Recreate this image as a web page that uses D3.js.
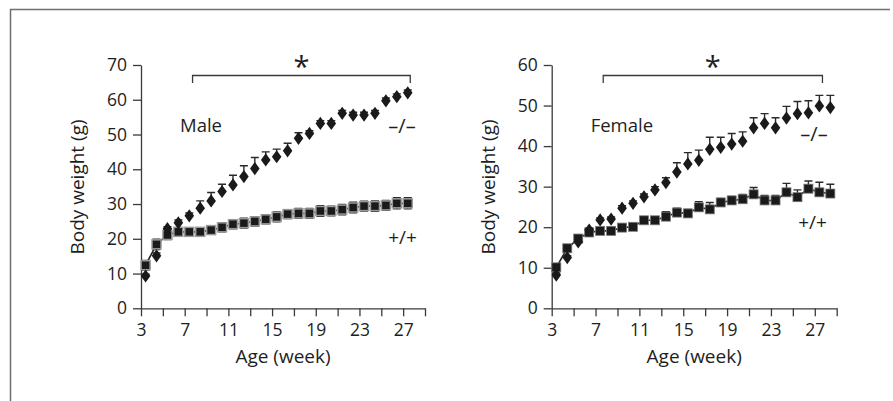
<!DOCTYPE html>
<html>
<head>
<meta charset="utf-8">
<script src="https://cdn.jsdelivr.net/npm/d3@7"></script>
<style>
  body { margin: 0; background: #fff; }
  svg { display: block; font-family: "Open Sans", "Noto Sans", sans-serif; }
</style>
</head>
<body>
<div id="chart"></div>
<script>
// body weight curves, male / female, -/- vs +/+

var maleWeeks = [3,4,5,6,7,8,9,10,11,12,13,14,15,16,17,18,19,20,21,22,23,24,25,26,27];
var maleKO    = [9.3,15.1,22.9,24.6,26.6,28.8,30.9,33.6,35.5,37.9,40.2,42.7,43.6,45.3,48.9,50.3,53.2,53.2,56.1,55.6,55.6,56.1,59.7,60.9,62.0];
var maleKOerr = [0.5,0.8,0.6,0.8,0.8,2.1,2.4,2.1,2.8,3.1,3.2,2.3,2.2,2.2,1.6,0.8,0.8,0.8,0.8,0.8,0.8,0.8,0.8,0.8,0.8];
var maleWT    = [12.4,18.4,21.1,22.0,22.0,22.0,22.5,23.3,24.2,24.5,25.0,25.6,26.3,27.1,27.3,27.3,28.0,28.0,28.4,29.0,29.4,29.4,29.6,30.2,30.2];
var maleWTerr = [1.4,1.5,1.3,1.1,1.0,1.0,1.2,1.3,1.3,1.4,1.3,1.3,1.4,1.3,1.4,1.4,1.5,1.4,1.5,1.5,1.4,1.5,1.4,1.6,1.6];

var femaleWeeks = [3,4,5,6,7,8,9,10,11,12,13,14,15,16,17,18,19,20,21,22,23,24,25,26,27,28];
var femaleKO    = [8.2,12.5,16.4,19.3,21.8,22.0,24.7,25.9,27.5,29.2,31.0,33.6,35.6,36.5,39.2,39.7,40.5,41.2,44.5,45.6,44.5,46.9,48.0,48.2,49.9,49.5];
var femaleKOerr = [0.5,0.5,0.5,0.5,0.5,0.5,0.6,0.6,0.7,0.8,1.2,2.3,2.8,2.5,3.0,2.5,2.6,2.3,2.5,2.4,2.5,2.9,3.0,3.0,2.6,3.0];
var femaleWT    = [10.1,14.8,17.2,18.7,19.1,19.1,19.9,20.1,21.7,21.7,22.6,23.6,23.4,24.9,24.4,26.1,26.6,26.9,28.1,26.6,26.6,28.6,27.4,29.5,28.6,28.3];
var femaleWTerr = [0.8,0.8,0.8,0.6,0.6,0.6,0.6,0.7,0.8,0.9,1.2,1.1,1.0,1.4,1.7,1.0,1.0,1.2,1.7,1.2,1.2,2.2,1.8,1.9,2.5,2.3];

var xTickValues = [3,5,7,9,11,13,15,17,19,21,23,25,27,29];
var xTickLabels = [3,7,11,15,19,23,27];

var panels = [
  {title: "Male", weeks: maleWeeks, ko: maleKO, koErr: maleKOerr, wt: maleWT, wtErr: maleWTerr,
   yMax: 70, left: 141, right: 425, bracket: [7.72, 27.65], koLab: [402, 133], wtLab: [402.5, 244],
   wtStroke: "#9a9a9a", wtStrokeW: 1.5, wtBoth: true},
  {title: "Female", weeks: femaleWeeks, ko: femaleKO, koErr: femaleKOerr, wt: femaleWT, wtErr: femaleWTerr,
   yMax: 60, left: 551.7, right: 836.7, bracket: [7.7, 27.7], koLab: [814, 141], wtLab: [812.5, 229],
   wtStroke: "#777", wtStrokeW: 0.8, wtBoth: false}
];

var width = 893, height = 401;
var plotTop = 65, plotBottom = 308.3;
var axisColor = "#3a3a3a";

var svg = d3.select("#chart").append("svg")
  .attr("width", width)
  .attr("height", height);

// frame (top + left edges only)
svg.append("path")
  .attr("d", "M10.5,401V9.5H890")
  .attr("fill", "none")
  .attr("stroke", "#6e6e6e")
  .attr("stroke-width", 1.5);

function diamondPath(cx, cy) {
  var w = 4.8, h = 6.6;
  return "M" + cx + "," + (cy - h) + "L" + (cx + w) + "," + cy + "L" + cx + "," + (cy + h) + "L" + (cx - w) + "," + cy + "Z";
}

panels.forEach(function (p) {
  var x = d3.scaleLinear().domain([3, 29]).range([p.left, p.right]);
  var y = d3.scaleLinear().domain([0, p.yMax]).range([plotBottom, plotTop]);
  var off = 0.42; // markers sit a little right of the week tick
  var g = svg.append("g");

  // axes
  var yAxis = g.append("g")
    .attr("transform", "translate(" + p.left + ",0)")
    .call(d3.axisLeft(y).ticks(p.yMax / 10).tickSize(8).tickPadding(6).tickSizeOuter(0));
  var xAxis = g.append("g")
    .attr("transform", "translate(0," + plotBottom + ")")
    .call(d3.axisBottom(x).tickValues(xTickValues).tickSize(8).tickPadding(7).tickSizeOuter(0)
      .tickFormat(function (d) { return xTickLabels.indexOf(d) >= 0 ? d : ""; }));
  [yAxis, xAxis].forEach(function (a) {
    a.attr("font-size", null).attr("font-family", null);
    a.select(".domain").attr("stroke", axisColor).attr("stroke-width", 1.3);
    a.selectAll(".tick line").attr("stroke", axisColor).attr("stroke-width", 1.3);
    a.selectAll(".tick text").attr("fill", "#1e1e1e").style("font-size", "17.5px");
  });

  // axis titles
  g.append("text")
    .attr("transform", "translate(" + (p.left - 57) + "," + 187 + ") rotate(-90)")
    .attr("text-anchor", "middle")
    .attr("fill", "#1e1e1e")
    .style("font-size", "19px")
    .text("Body weight (g)");
  g.append("text")
    .attr("x", (p.left + p.right) / 2)
    .attr("y", 363)
    .attr("text-anchor", "middle")
    .attr("fill", "#1e1e1e")
    .style("font-size", "19px")
    .text("Age (week)");

  // significance bracket
  var bx1 = x(p.bracket[0]), bx2 = x(p.bracket[1]);
  g.append("path")
    .attr("d", "M" + bx1 + ",83V75.5H" + bx2 + "V83")
    .attr("fill", "none")
    .attr("stroke", axisColor)
    .attr("stroke-width", 1.3);
  g.append("text")
    .attr("x", (bx1 + bx2) / 2)
    .attr("y", 77)
    .attr("text-anchor", "middle")
    .attr("fill", "#1e1e1e")
    .style("font-size", "29px")
    .text("*");

  // labels
  g.append("text")
    .attr("x", p.left + 39)
    .attr("y", 132)
    .attr("fill", "#1e1e1e")
    .style("font-size", "18.5px")
    .text(p.title);
  g.append("text")
    .attr("x", p.koLab[0]).attr("y", p.koLab[1])
    .attr("text-anchor", "middle").attr("fill", "#1e1e1e")
    .style("font-size", "20px")
    .text("\u2013/\u2013");
  g.append("text")
    .attr("x", p.wtLab[0]).attr("y", p.wtLab[1])
    .attr("text-anchor", "middle").attr("fill", "#1e1e1e")
    .style("font-size", "19px")
    .text("+/+");

  var ko = p.weeks.map(function (w, i) { return {w: w, v: p.ko[i], e: p.koErr[i]}; });
  var wt = p.weeks.map(function (w, i) { return {w: w, v: p.wt[i], e: p.wtErr[i]}; });

  // +/+ line
  var line = d3.line()
    .x(function (d) { return x(d.w + off); })
    .y(function (d) { return y(d.v); });
  g.append("path")
    .datum(wt)
    .attr("d", line)
    .attr("fill", "none")
    .attr("stroke", "#222")
    .attr("stroke-width", 1.6);

  // error bars
  function errBars(data, both, col) {
    var eb = g.append("g").attr("stroke", col).attr("stroke-width", 1.4).attr("fill", "none");
    eb.selectAll("path")
      .data(data)
      .enter()
      .append("path")
      .attr("d", function (d) {
        var cx = x(d.w + off), hi = y(d.v + d.e), lo = both ? y(d.v - d.e) : y(d.v);
        var s = "M" + cx + "," + lo + "V" + hi + "M" + (cx - 4) + "," + hi + "H" + (cx + 4);
        if (both) s += "M" + (cx - 4) + "," + lo + "H" + (cx + 4);
        return s;
      });
  }
  errBars(wt, p.wtBoth, "#2a2a2a");
  errBars(ko, false, "#2a2a2a");

  // +/+ squares
  g.selectAll("rect.wt")
    .data(wt)
    .enter()
    .append("rect")
    .attr("class", "wt")
    .attr("x", function (d) { return x(d.w + off) - 4.5; })
    .attr("y", function (d) { return y(d.v) - 4.5; })
    .attr("width", 9)
    .attr("height", 9)
    .attr("fill", "#1a1a1a")
    .attr("stroke", p.wtStroke)
    .attr("stroke-width", p.wtStrokeW);

  // -/- diamonds
  g.selectAll("path.ko")
    .data(ko)
    .enter()
    .append("path")
    .attr("class", "ko")
    .attr("d", function (d) { return diamondPath(x(d.w + off), y(d.v)); })
    .attr("fill", "#1a1a1a");
});
</script>
</body>
</html>
